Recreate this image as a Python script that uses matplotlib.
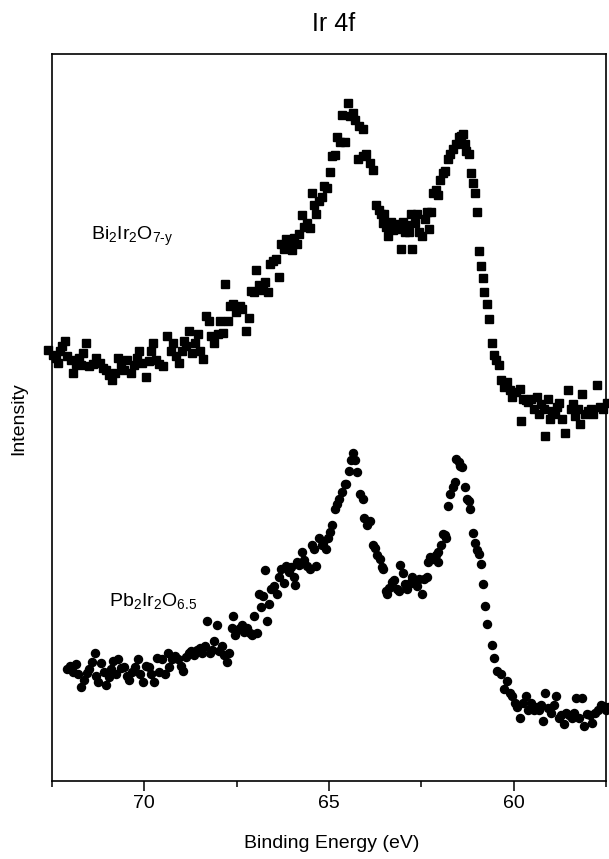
import matplotlib
matplotlib.use("Agg")
import matplotlib.pyplot as plt
from matplotlib.ticker import MultipleLocator

plt.rcParams["font.family"] = ["Liberation Sans", "DejaVu Sans"]
plt.rcParams["mathtext.fontset"] = "custom"
plt.rcParams["mathtext.rm"] = "Liberation Sans"
plt.rcParams["mathtext.it"] = "Liberation Sans"

# Bi2Ir2O7-y (squares): binding energy (eV), intensity (arb. units)
bi_energy = [
    72.61, 72.48, 72.38, 72.28, 72.23, 72.15, 72.33, 72.09, 71.99, 71.92,
    71.84, 71.76, 71.66, 71.59, 71.72, 71.49, 71.39, 71.30, 71.20, 71.13,
    71.03, 70.95, 70.87, 70.80, 70.70, 70.63, 70.56, 70.46, 70.36, 70.28,
    70.21, 70.14, 70.06, 69.96, 69.88, 69.81, 69.77, 69.69, 69.59, 69.49,
    69.39, 69.29, 69.22, 69.15, 69.07, 68.99, 68.93, 68.86, 68.78, 68.70,
    68.63, 68.56, 68.48, 68.40, 68.33, 68.26, 68.19, 68.11, 68.01, 67.94,
    67.87, 67.81, 67.74, 67.67, 67.59, 67.51, 67.42, 67.35, 67.25, 67.17,
    67.12, 67.02, 66.97, 66.90, 66.80, 66.72, 66.66, 66.59, 66.51, 66.43,
    66.36, 66.31, 66.23, 66.16, 66.08, 66.01, 65.94, 65.87, 65.80, 65.74,
    65.67, 65.59, 65.52, 65.47, 65.40, 65.34, 65.27, 65.20, 65.13, 65.05,
    64.98, 64.91, 64.83, 64.78, 64.71, 64.65, 64.58, 64.48, 64.43, 64.36,
    64.29, 64.19, 64.09, 64.22, 64.09, 63.99, 63.89, 63.82, 63.74, 63.66,
    63.60, 63.55, 63.50, 63.45, 63.40, 63.33, 63.27, 63.20, 63.13, 63.05,
    63.00, 62.95, 62.90, 62.84, 62.78, 62.74, 62.68, 62.61, 62.56, 62.48,
    62.41, 62.34, 62.28, 62.24, 62.18, 62.11, 62.05, 61.99, 61.92, 61.85,
    61.79, 61.72, 61.65, 61.57, 61.49, 61.42, 61.37, 61.32, 61.28, 61.20,
    61.16, 61.10, 61.06, 60.98, 60.93, 60.88, 60.83, 60.80, 60.73, 60.66,
    60.58, 60.53, 60.47, 60.41, 60.34, 60.27, 60.19, 60.11, 60.04, 59.94,
    59.84, 59.79, 59.75, 59.68, 59.60, 59.52, 59.45, 59.38, 59.32, 59.25,
    59.18, 59.15, 59.08, 59.02, 58.96, 58.89, 58.83, 58.76, 58.69, 58.61,
    58.53, 58.46, 58.39, 58.33, 58.26, 58.21, 58.14, 58.07, 58.00, 57.92,
    57.84, 57.74, 57.67, 57.57, 57.47,
]
bi_intensity = [
    887, 877, 870, 885, 895, 905, 860, 875, 865, 840,
    857, 870, 880, 900, 855, 853, 857, 870, 860, 850,
    845, 835, 825, 840, 870, 857, 845, 865, 840, 855,
    870, 885, 860, 830, 863, 885, 900, 865, 857, 853,
    915, 885, 900, 875, 860, 885, 905, 895, 925, 880,
    900, 920, 885, 867, 957, 945, 915, 900, 920, 945,
    922, 1022, 945, 977, 980, 965, 977, 970, 925, 952,
    1007, 1005, 1050, 1020, 1010, 1027, 1005, 1063, 1070, 1073,
    1037, 1105, 1095, 1115, 1110, 1093, 1117, 1105, 1125, 1163,
    1140, 1147, 1137, 1210, 1185, 1167, 1193, 1200, 1223, 1220,
    1253, 1285, 1287, 1325, 1315, 1370, 1315, 1395, 1367, 1373,
    1360, 1347, 1340, 1280, 1285, 1290, 1270, 1257, 1185, 1175,
    1165, 1147, 1165, 1140, 1120, 1150, 1133, 1145, 1135, 1095,
    1150, 1130, 1143, 1130, 1165, 1095, 1147, 1165, 1130, 1120,
    1155, 1170, 1135, 1170, 1210, 1215, 1205, 1235, 1250, 1255,
    1280, 1290, 1300, 1310, 1325, 1327, 1330, 1310, 1295, 1290,
    1250, 1230, 1210, 1170, 1090, 1060, 1035, 1005, 980, 950,
    900, 877, 865, 855, 825, 810, 820, 805, 790, 800,
    807, 740, 785, 783, 780, 785, 765, 790, 755, 775,
    765, 710, 785, 745, 760, 755, 770, 777, 745, 715,
    805, 765, 775, 750, 765, 735, 795, 755, 760, 765,
    755, 815, 770, 765, 777,
]

# Pb2Ir2O6.5 (circles)
pb_energy = [
    72.09, 72.02, 71.94, 71.86, 71.79, 71.72, 71.64, 71.56, 71.49, 71.42,
    71.34, 71.30, 71.25, 71.17, 71.10, 71.03, 70.97, 70.90, 70.85, 70.77,
    70.70, 70.63, 70.56, 70.48, 70.41, 70.34, 70.26, 70.18, 70.11, 70.04,
    69.96, 69.88, 69.81, 69.75, 69.67, 69.59, 69.52, 69.45, 69.37, 69.32,
    69.25, 69.17, 69.09, 69.02, 68.96, 68.88, 68.80, 68.73, 68.66, 68.58,
    68.50, 68.43, 68.36, 68.30, 68.23, 68.17, 68.11, 68.04, 67.99, 67.91,
    67.84, 67.77, 67.71, 67.64, 67.59, 67.54, 67.48, 67.40, 67.35, 67.30,
    67.22, 67.15, 67.08, 67.02, 66.95, 66.90, 66.85, 66.78, 66.72, 66.68,
    66.62, 66.56, 66.49, 66.41, 66.36, 66.29, 66.23, 66.16, 66.09, 66.03,
    65.96, 65.92, 65.87, 65.80, 65.74, 65.67, 65.60, 65.52, 65.47, 65.40,
    65.34, 65.27, 65.20, 65.15, 65.08, 65.03, 64.98, 64.93, 64.85, 64.78,
    64.73, 64.65, 64.58, 64.53, 64.45, 64.41, 64.36, 64.29, 64.24, 64.16,
    64.09, 64.04, 63.96, 63.89, 63.82, 63.76, 63.69, 63.62, 63.57, 63.53,
    63.47, 63.43, 63.37, 63.30, 63.25, 63.17, 63.10, 63.07, 63.00, 62.95,
    62.90, 62.84, 62.78, 62.74, 62.68, 62.61, 62.56, 62.48, 62.44, 62.36,
    62.31, 62.26, 62.18, 62.11, 62.06, 62.04, 61.98, 61.92, 61.87, 61.82,
    61.77, 61.72, 61.65, 61.59, 61.55, 61.49, 61.45, 61.39, 61.32, 61.27,
    61.22, 61.18, 61.10, 61.05, 60.98, 60.93, 60.88, 60.83, 60.79, 60.71,
    60.60, 60.54, 60.44, 60.34, 60.27, 60.19, 60.11, 60.04, 59.97, 59.90,
    59.82, 59.75, 59.68, 59.60, 59.52, 59.45, 59.38, 59.32, 59.25, 59.20,
    59.15, 59.08, 59.00, 58.92, 58.85, 58.78, 58.72, 58.65, 58.58, 58.50,
    58.42, 58.36, 58.31, 58.23, 58.16, 58.09, 58.02, 57.94, 57.87, 57.80,
    57.72, 57.64, 57.57, 57.50, 57.45,
]
pb_intensity = [
    230, 237, 225, 240, 220, 193, 207, 223, 230, 245,
    263, 215, 203, 243, 225, 197, 213, 230, 247, 220,
    250, 233, 235, 215, 207, 225, 235, 250, 220, 203,
    237, 235, 220, 203, 253, 225, 250, 220, 263, 235,
    250, 257, 250, 237, 227, 255, 263, 267, 260, 270,
    273, 263, 277, 330, 263, 270, 287, 320, 267, 277,
    260, 245, 263, 315, 340, 300, 310, 315, 320, 307,
    315, 305, 300, 340, 305, 385, 357, 380, 433, 330,
    363, 395, 400, 385, 420, 435, 407, 443, 430, 440,
    420, 403, 450, 445, 470, 455, 443, 435, 485, 477,
    443, 500, 485, 490, 477, 500, 513, 527, 560, 570,
    580, 595, 610, 610, 637, 660, 675, 660, 635, 590,
    580, 540, 527, 535, 485, 480, 465, 457, 440, 435,
    390, 385, 397, 410, 413, 395, 390, 445, 427, 405,
    395, 405, 410, 420, 407, 400, 415, 385, 415, 420,
    450, 460, 457, 465, 450, 470, 485, 507, 505, 500,
    565, 590, 605, 615, 663, 655, 647, 645, 605, 580,
    575, 560, 510, 490, 475, 467, 447, 405, 360, 323,
    280, 253, 227, 220, 190, 205, 180, 175, 160, 153,
    130, 160, 175, 147, 160, 145, 153, 145, 157, 123,
    180, 150, 140, 157, 175, 130, 135, 117, 140, 135,
    130, 140, 170, 130, 170, 113, 137, 135, 120, 140,
    147, 157, 155, 145, 153,
]

labels = [r"Bi$_2$Ir$_2$O$_{7\text{-}y}$", r"Pb$_2$Ir$_2$O$_{6.5}$"]
label_pos = [(71.44, 1120), (70.95, 370)]


def main():
    fig = plt.figure(figsize=(6.09, 8.59), dpi=100)
    ax = fig.add_axes([0.0854, 0.0908, 0.9097, 0.8463])

    ax.plot(bi_energy, bi_intensity, linestyle="none", marker="s",
            markersize=5.2, color="black", clip_on=False)
    ax.plot(pb_energy, pb_intensity, linestyle="none", marker="o",
            markersize=5.8, color="black", clip_on=False)

    for text, (x, y) in zip(labels, label_pos):
        ax.text(x, y, text, fontsize=14, ha="left", va="center")

    ax.set_xlim(72.5, 57.5)
    ax.set_ylim(0, 1495)
    ax.xaxis.set_major_locator(MultipleLocator(5))
    ax.xaxis.set_minor_locator(MultipleLocator(2.5))
    ax.tick_params(axis="x", which="major", direction="out", length=7,
                   width=1.1, labelsize=14, pad=3)
    ax.tick_params(axis="x", which="minor", direction="out", length=4,
                   width=1.1)
    ax.set_yticks([])
    for spine in ax.spines.values():
        spine.set_linewidth(1.2)

    fig.text(0.5485, 0.972, "Ir 4f", fontsize=18, ha="center", va="center",
             family=["Liberation Sans Narrow", "Liberation Sans"])
    fig.text(0.545, 0.018, "Binding Energy (eV)", fontsize=14,
             ha="center", va="center")
    fig.text(0.030, 0.513, "Intensity", fontsize=14, rotation=90,
             ha="center", va="center")

    fig.savefig("out.png", dpi=100)
    plt.close(fig)


if __name__ == "__main__":
    main()
